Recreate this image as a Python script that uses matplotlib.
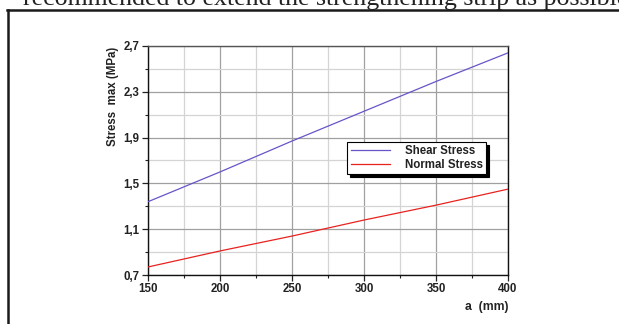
import matplotlib
matplotlib.use("Agg")
import numpy as np
import matplotlib.pyplot as plt
from matplotlib.lines import Line2D
from matplotlib.ticker import FixedLocator, MultipleLocator, FuncFormatter

# Length of the strengthening strip (mm) and the resulting peak stresses (MPa)
a_mm = [150, 200, 250, 300, 350, 400]
shear_stress = [1.34, 1.60, 1.87, 2.13, 2.39, 2.64]
normal_stress = [0.77, 0.91, 1.04, 1.18, 1.31, 1.45]
series_names = ["Shear Stress", "Normal Stress"]
y_ticks = [0.7, 1.1, 1.5, 1.9, 2.3, 2.7]

W, H = 619, 324
fig = plt.figure(figsize=(W / 100, H / 100), dpi=100)
fig.patch.set_facecolor("white")

# Running text above the figure box (cut by the page edge)
fig.text(23 / W, 1 - 4.5 / H, "recommended to extend the strengthening strip as possible",
         family="Liberation Serif", fontsize=18.6, color="#222222",
         ha="left", va="baseline")

# Figure box: top and left rules
fig.add_artist(Line2D([7 / W, 1.0], [1 - 10 / H, 1 - 10 / H], transform=fig.transFigure,
                      color="#1a1a1a", lw=1.8))
fig.add_artist(Line2D([8 / W, 8 / W], [0.0, 1 - 10 / H], transform=fig.transFigure,
                      color="#1a1a1a", lw=1.8))

ax = fig.add_axes([148 / W, 1 - 275 / H, 360 / W, 229 / H])
ax.plot(a_mm, shear_stress, color="#6655c8", lw=0.9, label=series_names[0], zorder=3)
ax.plot(a_mm, normal_stress, color="#e8231f", lw=0.9, label=series_names[1], zorder=3)

ax.set_xlim(150, 400)
ax.set_ylim(0.7, 2.7)
ax.xaxis.set_major_locator(MultipleLocator(50))
ax.xaxis.set_minor_locator(MultipleLocator(25))
ax.yaxis.set_major_locator(FixedLocator(y_ticks))
y_minor = [(lo + hi) / 2 for lo, hi in zip(y_ticks[:-1], y_ticks[1:])]
ax.yaxis.set_minor_locator(FixedLocator(y_minor))
ax.yaxis.set_major_formatter(FuncFormatter(lambda v, p: f"{v:.1f}".replace(".", ",")))
ax.xaxis.set_major_formatter(FuncFormatter(lambda v, p: f"{v:.0f}"))

ax.grid(which="major", color="#a0a0a0", lw=0.9, zorder=0)
ax.grid(which="minor", color="#d4d4d4", lw=0.9, zorder=0)
ax.set_axisbelow(True)

ax.tick_params(which="major", direction="out", length=4, width=0.9, color="#222222",
               labelsize=8.3, pad=2)
ax.tick_params(which="minor", direction="out", length=2, width=0.8, color="#222222")
for lab in ax.get_xticklabels() + ax.get_yticklabels():
    lab.set_fontweight("bold")
    lab.set_family("Liberation Sans")
    lab.set_color("#222222")

for side in ["left", "bottom", "right"]:
    ax.spines[side].set_color("#111111")
    ax.spines[side].set_linewidth(1.0)
ax.spines["top"].set_color("#555555")
ax.spines["top"].set_linewidth(1.0)

leg = ax.legend(loc="upper left", bbox_to_anchor=(0.553, 0.581), frameon=True,
                fancybox=False, shadow={"color": "black", "alpha": 1.0},
                prop={"family": "Liberation Sans", "weight": "bold", "size": 8.3},
                handlelength=3.4, handletextpad=1.3, borderpad=0.3,
                labelspacing=0.1, borderaxespad=0)
leg.get_frame().set_edgecolor("black")
leg.get_frame().set_linewidth(0.8)
for t in leg.get_texts():
    t.set_color("#222222")

fig.text(113 / W, 1 - 96 / H, "Stress  max (MPa)", rotation=90, ha="center", va="center",
         family="Liberation Sans", fontweight="bold", fontsize=8.3, color="#222222")
fig.text(487 / W, 1 - 307 / H, "a  (mm)", ha="center", va="center",
         family="Liberation Sans", fontweight="bold", fontsize=8.8, color="#222222")

fig.savefig("out.png", dpi=100, facecolor="white")
